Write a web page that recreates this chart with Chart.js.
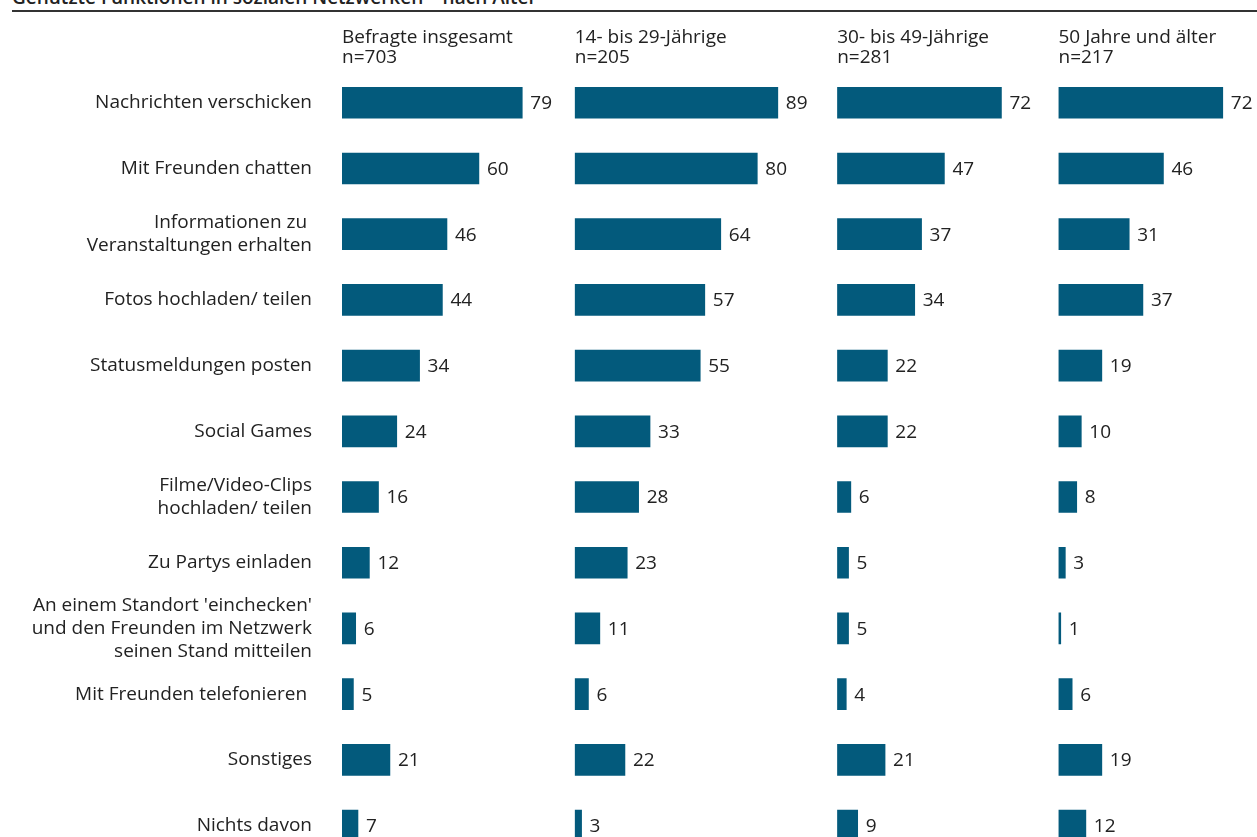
<!DOCTYPE html>
<html lang="de">
<head>
<meta charset="utf-8">
<title>Genutzte Funktionen in sozialen Netzwerken – nach Alter</title>
<script src="https://cdn.jsdelivr.net/npm/chart.js@4"></script>
<style>
  html, body { margin: 0; padding: 0; background: #fff; overflow: hidden; }
  #kopf {
    position: absolute; left: 12px; top: -16px;
    font: 600 19px "Open Sans", sans-serif; color: #222; white-space: nowrap;
  }
  #linie {
    position: absolute; left: 12px; right: 0; top: 10px; height: 2px; background: #333;
  }
  #wrap { position: absolute; left: 0; top: 0; width: 1257px; height: 900px; }
</style>
</head>
<body>
<div id="kopf">Genutzte Funktionen in sozialen Netzwerken – nach Alter</div>
<div id="linie"></div>
<div id="wrap"><canvas id="grafik" width="1257" height="900"></canvas></div>

<script>
// Funktionen (Zeilen)
const funktionen = [
  "Nachrichten verschicken",
  "Mit Freunden chatten",
  ["Informationen zu ", "Veranstaltungen erhalten"],
  "Fotos hochladen/ teilen",
  "Statusmeldungen posten",
  "Social Games",
  ["Filme/Video-Clips", "hochladen/ teilen"],
  "Zu Partys einladen",
  ["An einem Standort 'einchecken'", "und den Freunden im Netzwerk", "seinen Stand mitteilen"],
  "Mit Freunden telefonieren ",
  "Sonstiges",
  "Nichts davon"
];

// Altersgruppen (Spalten)
const gruppen = ["Befragte insgesamt", "14- bis 29-Jährige", "30- bis 49-Jährige", "50 Jahre und älter"];
const fallzahlen = ["n=703", "n=205", "n=281", "n=217"];

// Angaben in Prozent
const insgesamt = [79, 60, 46, 44, 34, 24, 16, 12, 6, 5, 21, 7];
const jahre14bis29 = [89, 80, 64, 57, 55, 33, 28, 23, 11, 6, 22, 3];
const jahre30bis49 = [72, 47, 37, 34, 22, 22, 6, 5, 5, 4, 21, 9];
const ab50 = [72, 46, 31, 37, 19, 10, 8, 3, 1, 6, 19, 12];

const werte = [insgesamt, jahre14bis29, jahre30bis49, ab50];

// Skalenende je Spalte (bestimmt die Spaltenbreite)
const spaltenMax = [102, 115, 97, 87];

const schrift = "'Open Sans', sans-serif";
const farbe = "#035a7c";

// Werte rechts neben die Balken schreiben
const wertLabels = {
  id: "wertLabels",
  afterDatasetsDraw(chart){
    const ctx = chart.ctx;
    ctx.save();
    ctx.font = "19px " + schrift;
    ctx.fillStyle = "#222";
    ctx.textBaseline = "middle";
    ctx.textAlign = "left";
    chart.data.datasets.forEach((ds, i) => {
      chart.getDatasetMeta(i).data.forEach((bar, j) => {
        ctx.fillText(ds.data[j], bar.x + 8, bar.y + 1);
      });
    });
    ctx.restore();
  }
};

const scales = {
  y: {
    position: "left",
    grid: { display: false, drawTicks: false },
    border: { display: false },
    ticks: {
      autoSkip: false,
      color: "#222",
      padding: 30,
      font: { family: schrift, size: 19, lineHeight: 1.22 }
    },
    afterFit(scale){
      scale.width = 342;
    }
  }
};

// oben gestapelte Achsen werden von rechts nach links gelegt,
// daher in umgekehrter Reihenfolge anlegen
for (let i = gruppen.length - 1; i >= 0; i--) {
  scales["x" + i] = {
    position: "top",
    stack: "spalten",
    stackWeight: spaltenMax[i],
    min: 0,
    max: spaltenMax[i],
    grid: { display: false, drawTicks: false },
    border: { display: false },
    ticks: { display: false },
    title: {
      display: true,
      text: [gruppen[i], fallzahlen[i]],
      align: "start",
      color: "#222",
      padding: { top: 0, bottom: 2 },
      font: { family: schrift, size: 19, lineHeight: 1.05 }
    }
  };
}

new Chart(document.getElementById("grafik"), {
  type: "bar",
  data: {
    labels: funktionen,
    datasets: werte.map((reihe, i) => ({
      label: gruppen[i],
      data: reihe,
      xAxisID: "x" + i,
      backgroundColor: farbe,
      barThickness: 31,
      grouped: false
    }))
  },
  options: {
    indexAxis: "y",
    responsive: false,
    animation: false,
    layout: { padding: { top: 28, left: 0, right: 0, bottom: 0 } },
    plugins: {
      legend: { display: false },
      tooltip: { enabled: false }
    },
    scales: scales
  },
  plugins: [wertLabels]
});
</script>
</body>
</html>
